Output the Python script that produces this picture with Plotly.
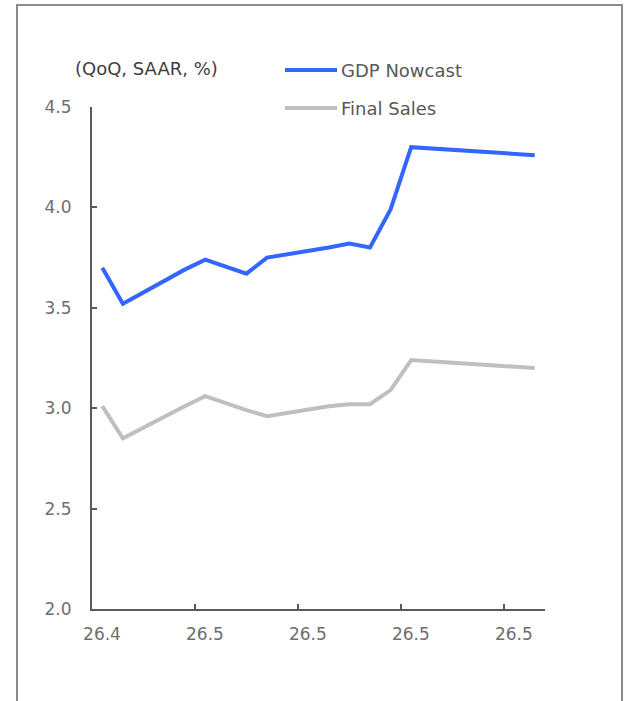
import plotly.graph_objects as go
import pandas as pd

# Daily observation dates (one slot per calendar day)
dates = pd.date_range("2026-04-29", periods=22, freq="D")

# GDP Nowcast and Final Sales estimates, QoQ SAAR %, None where no update
gdp_nowcast = [3.70, 3.52, None, None, 3.69, 3.74, None, 3.67, 3.75, None, None,
               3.80, 3.82, 3.80, 3.99, 4.30, None, None, None, None, None, 4.26]
final_sales = [3.01, 2.85, None, None, 3.01, 3.06, None, 2.99, 2.96, None, None,
               3.01, 3.02, 3.02, 3.09, 3.24, None, None, None, None, None, 3.20]

# Tick labels (yy.m) every five days
tick_idx = [0, 5, 10, 15, 20]
tick_labels = ["26.4", "26.5", "26.5", "26.5", "26.5"]

y_ticks = [2.0, 2.5, 3.0, 3.5, 4.0, 4.5]

series_names = ["GDP Nowcast", "Final Sales"]
series_colors = ["#3366ff", "#bfbfbf"]

FONT = "DejaVu Sans, sans-serif"
AXIS_COLOR = "#595959"
TEXT_COLOR = "#6e6e6e"

half_day = pd.Timedelta(hours=12)

fig = go.Figure()
for name, vals, color in zip(series_names, [gdp_nowcast, final_sales], series_colors):
    fig.add_trace(go.Scatter(
        x=dates, y=vals, name=name, mode="lines", connectgaps=True,
        line=dict(color=color, width=4), showlegend=False,
    ))

# Plot area in pixels: x 92..545, y 107..609
W, H = 630, 701
L, R, T, B = 92, 545, 107, 609


def px_x(p):
    return (p - L) / (R - L)


def px_y(p):
    return (B - p) / (B - T)


fig.update_layout(
    width=W, height=H,
    margin=dict(l=L, r=W - R, t=T, b=H - B, pad=0),
    paper_bgcolor="white", plot_bgcolor="white",
    font=dict(family=FONT, color=TEXT_COLOR, size=17),
    xaxis=dict(
        type="date",
        range=[dates[0] - half_day, dates[-1] + half_day],
        tickvals=[dates[i] - half_day for i in tick_idx],
        ticktext=tick_labels,
        ticks="inside", ticklen=5, tickwidth=2, tickcolor=AXIS_COLOR,
        ticklabelshift=10, ticklabelstandoff=9,
        showline=True, linecolor=AXIS_COLOR, linewidth=2,
        showgrid=False, zeroline=False,
        tickfont=dict(family=FONT, size=17, color=TEXT_COLOR),
    ),
    yaxis=dict(
        range=[2.0, 4.5],
        tickvals=y_ticks, ticktext=[f"{v:.1f}" for v in y_ticks],
        ticks="inside", ticklen=5, tickwidth=2, tickcolor=AXIS_COLOR,
        ticklabelstandoff=15,
        showline=True, linecolor=AXIS_COLOR, linewidth=2,
        showgrid=False, zeroline=False,
        tickfont=dict(family=FONT, size=17, color=TEXT_COLOR),
    ),
)

# Frame around the chart (open at the bottom)
fl, fr, ft, fb = px_x(17), px_x(622), px_y(5), px_y(720)
fig.add_shape(type="path", xref="paper", yref="paper",
              path=f"M {fl},{fb} L {fl},{ft} L {fr},{ft} L {fr},{fb}",
              line=dict(color="#8c8c8c", width=2))

# Unit label
fig.add_annotation(xref="paper", yref="paper", x=px_x(73), y=px_y(68),
                   xanchor="left", yanchor="middle", showarrow=False,
                   text="(QoQ, SAAR, %)",
                   font=dict(family=FONT, size=18, color="#404040"))

# Legend: line samples with labels
for i, (name, color) in enumerate(zip(series_names, series_colors)):
    yy = px_y(70 + i * 38)
    fig.add_shape(type="line", xref="paper", yref="paper",
                  x0=px_x(285), x1=px_x(337), y0=yy, y1=yy,
                  line=dict(color=color, width=4))
    fig.add_annotation(xref="paper", yref="paper", x=px_x(339), y=yy,
                       xanchor="left", yanchor="middle", showarrow=False,
                       text=name, font=dict(family=FONT, size=18, color="#595959"))

fig.write_html("out.html")
